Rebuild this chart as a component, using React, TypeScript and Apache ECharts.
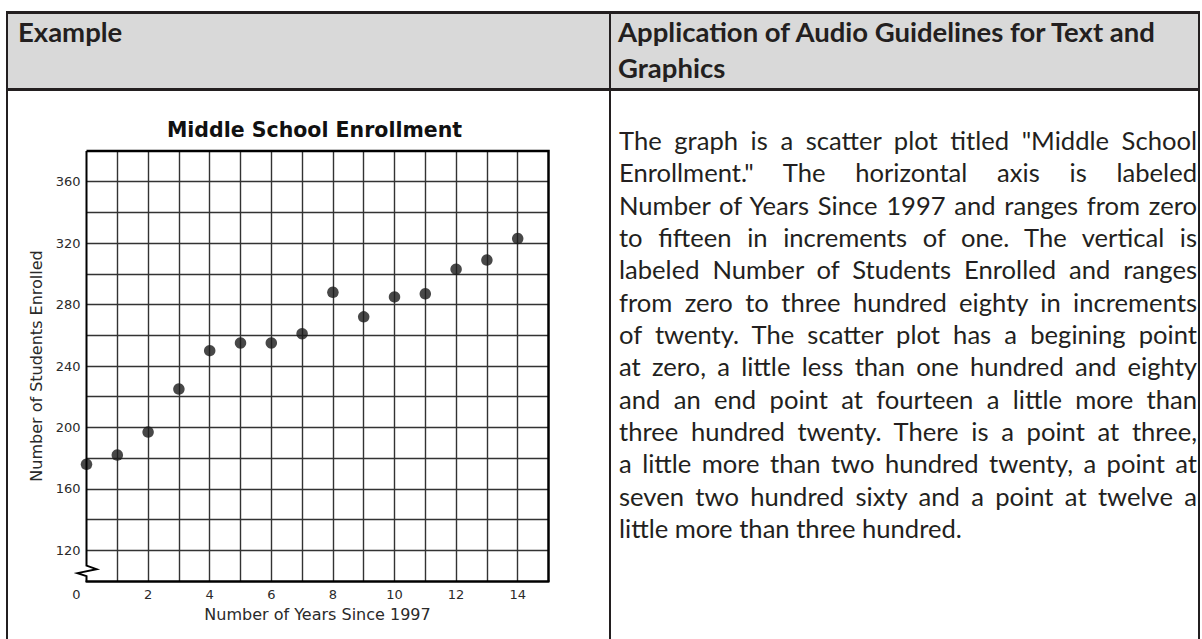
import React, { useEffect, useRef } from "react";
import * as echarts from "echarts";

// ---- data ----
const years = [0, 1, 2, 3, 4, 5, 6, 7, 8, 9, 10, 11, 12, 13, 14];
const enrollment = [176, 182, 197, 225, 250, 255, 255, 261, 288, 272, 285, 287, 303, 309, 323];
const xTickLabels = [0, 2, 4, 6, 8, 10, 12, 14];
const yTickLabels = [120, 160, 200, 240, 280, 320, 360];
const chartTitle = "Middle School Enrollment";
const xAxisName = "Number of Years Since 1997";
const yAxisName = "Number of Students Enrolled";
const headerLeft = "Example";
const headerRightLines = ["Application of Audio Guidelines for Text and", "Graphics"];
const bodyLines = [
  'The graph is a scatter plot titled "Middle School',
  'Enrollment." The horizontal axis is labeled',
  "Number of Years Since 1997 and ranges from zero",
  "to fifteen in increments of one. The vertical is",
  "labeled Number of Students Enrolled and ranges",
  "from zero to three hundred eighty in increments",
  "of twenty. The scatter plot has a begining point",
  "at zero, a little less than one hundred and eighty",
  "and an end point at fourteen a little more than",
  "three hundred twenty. There is a point at three,",
  "a little more than two hundred twenty, a point at",
  "seven two hundred sixty and a point at twelve a",
  "little more than three hundred.",
];

const X_MIN = 0;
const X_MAX = 15;
const Y_MIN = 100;
const Y_MAX = 380;
const Y_BREAK = 110;

const BORDER = "#231f20";
const TEXT = "#231f20";
const AXIS_FONT = "DejaVu Sans";

function Chart() {
  const ref = useRef<HTMLDivElement>(null);
  useEffect(() => {
    if (!ref.current) return;
    const chart = echarts.init(ref.current, undefined, { renderer: "svg" });
    const labelStyle = { fontFamily: AXIS_FONT, fontSize: 13, color: "#2a2a2a" };
    const nameStyle = { fontFamily: AXIS_FONT, fontSize: 16, color: "#2a2a2a" };
    const gridLine = { color: "#333", width: 1.4 };
    chart.setOption({
      animation: false,
      grid: { left: 86.5, top: 151, width: 462, height: 430, containLabel: false },
      xAxis: {
        type: "value",
        min: X_MIN,
        max: X_MAX,
        interval: 1,
        axisLine: { show: true, onZero: false, lineStyle: { color: "#000", width: 2.5 } },
        axisTick: { show: false },
        splitLine: { show: true, showMinLine: false, showMaxLine: false, lineStyle: gridLine },
        axisLabel: {
          ...labelStyle,
          margin: 7,
          formatter: (v: number) =>
            xTickLabels.includes(v) ? (v === 0 ? "{z|" + v + "}" : String(v)) : "",
          rich: { z: { ...labelStyle, padding: [0, 20, 0, 0] } },
        },
        name: xAxisName,
        nameLocation: "middle",
        nameGap: 25,
        nameTextStyle: nameStyle,
      },
      yAxis: {
        type: "value",
        min: Y_MIN,
        max: Y_MAX,
        interval: 20,
        axisLine: { show: false },
        axisTick: { show: false },
        splitLine: { show: true, showMinLine: false, showMaxLine: false, lineStyle: gridLine },
        axisLabel: {
          ...labelStyle,
          margin: 6,
          formatter: (v: number) => (yTickLabels.includes(v) ? String(v) : ""),
        },
        name: yAxisName,
        nameLocation: "middle",
        nameGap: 42,
        nameTextStyle: nameStyle,
      },
      series: [
        {
          type: "scatter",
          data: years.map((x, i) => [x, enrollment[i]]),
          symbol: "circle",
          symbolSize: 11.5,
          clip: false,
          z: 5,
          itemStyle: { color: "#1a1a1a" },
        },
      ],
    });

    const px = (x: number, y: number) =>
      chart.convertToPixel({ gridIndex: 0 }, [x, y]) as number[];
    const tl = px(X_MIN, Y_MAX);
    const tr = px(X_MAX, Y_MAX);
    const br = px(X_MAX, Y_MIN);
    const bk = px(X_MIN, Y_BREAK);
    const bl = px(X_MIN, Y_MIN);
    const borderStyle = { stroke: "#000", lineWidth: 2.5, fill: null };
    chart.setOption({
      graphic: [
        {
          type: "polyline",
          z: 10,
          shape: { points: [tl, tr, br] },
          style: borderStyle,
        },
        {
          type: "polyline",
          z: 10,
          shape: {
            points: [
              tl,
              bk,
              [bk[0] + 10, bk[1] + 3.5],
              [bk[0] - 9, bk[1] + 7.5],
              [bk[0], bk[1] + 10.5],
              bl,
            ],
          },
          style: { ...borderStyle, lineWidth: 2 },
        },
        {
          type: "text",
          z: 10,
          x: (tl[0] + tr[0]) / 2 - 3,
          y: 130,
          style: {
            text: chartTitle,
            fontFamily: AXIS_FONT,
            fontWeight: "bold",
            fontSize: 20.5,
            fill: "#111",
            align: "center",
            verticalAlign: "middle",
            textAlign: "center",
            textVerticalAlign: "middle",
          },
        },
      ],
    });
    return () => chart.dispose();
  }, []);
  return (
    <div
      ref={ref}
      style={{ position: "absolute", left: 0, top: 0, width: 609, height: 639 }}
    />
  );
}

export default function App() {
  const abs = (s: React.CSSProperties): React.CSSProperties => ({ position: "absolute", ...s });
  return (
    <div
      style={abs({
        left: 0,
        top: 0,
        width: 1202,
        height: 639,
        overflow: "hidden",
        background: "#fff",
        fontFamily: "Lato, 'Noto Sans', sans-serif",
        color: TEXT,
      })}
    >
      {/* header background */}
      <div style={abs({ left: 7, top: 12, width: 1192, height: 77, background: "#d9d9d9" })} />
      {/* borders */}
      <div style={abs({ left: 6, top: 11, width: 1194, height: 3, background: BORDER })} />
      <div style={abs({ left: 6, top: 88, width: 1194, height: 3, background: BORDER })} />
      <div style={abs({ left: 6, top: 11, width: 2, height: 640, background: BORDER })} />
      <div style={abs({ left: 609, top: 11, width: 2, height: 640, background: BORDER })} />
      <div style={abs({ left: 1198, top: 11, width: 2, height: 640, background: BORDER })} />
      {/* headers */}
      <div
        style={abs({
          left: 18,
          top: 14,
          fontWeight: 700,
          fontSize: 27.5,
          lineHeight: "36px",
          whiteSpace: "nowrap",
        })}
      >
        {headerLeft}
      </div>
      <div
        style={abs({
          left: 618,
          top: 14,
          fontWeight: 700,
          fontSize: 27.5,
          lineHeight: "36px",
          whiteSpace: "nowrap",
        })}
      >
        {headerRightLines.map((l, i) => (
          <div key={i}>{l}</div>
        ))}
      </div>
      {/* body text */}
      <div style={abs({ left: 619, top: 124, width: 578, fontSize: 25.6 })}>
        {bodyLines.map((l, i) => (
          <div
            key={i}
            style={{
              height: 32.33,
              lineHeight: "32.33px",
              whiteSpace: "nowrap",
              textAlign: i === bodyLines.length - 1 ? "left" : "justify",
              textAlignLast: i === bodyLines.length - 1 ? "left" : "justify",
            }}
          >
            {l}
          </div>
        ))}
      </div>
      <Chart />
    </div>
  );
}
